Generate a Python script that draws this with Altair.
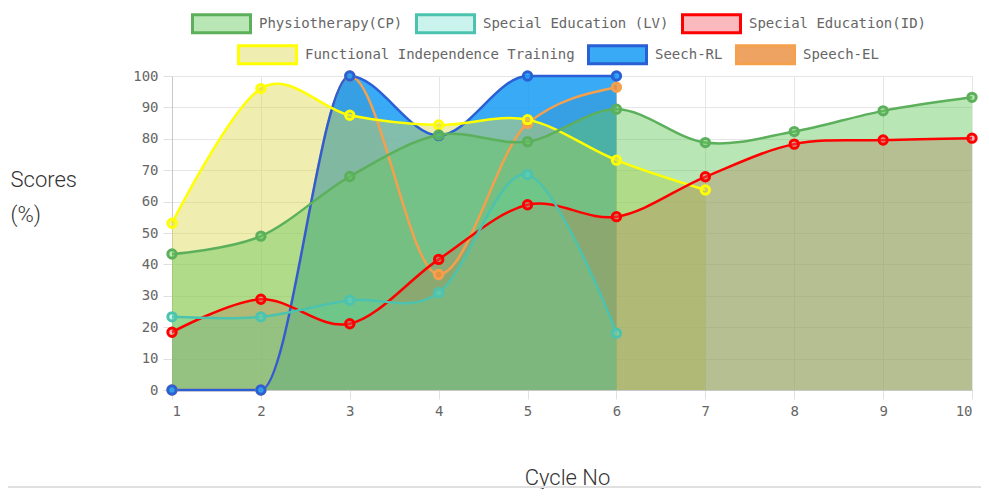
import altair as alt
import pandas as pd

# ---------------- data ----------------
cycles = [1, 2, 3, 4, 5, 6, 7, 8, 9, 10]
physio = [43.3, 49.0, 68.0, 81.2, 79.1, 89.4, 78.8, 82.3, 88.9, 93.2]
lv = [23.3, 23.3, 28.6, 31.0, 68.6, 18.1]
sid = [18.4, 28.9, 21.1, 41.6, 59.0, 55.2, 67.9, 78.3, 79.6, 80.2]
fit = [53.1, 96.0, 87.5, 84.4, 86.1, 73.2, 63.7]
rl = [0, 0, 100, 81.0, 100, 100]
el = [0, 0, 100, 36.8, 84.9, 96.4]

names = ["Physiotherapy(CP)", "Special Education (LV)", "Special Education(ID)",
         "Functional Independence Training", "Seech-RL", "Speech-EL"]
values = [physio, lv, sid, fit, rl, el]
fills = ["rgba(100,200,90,0.45)", "rgba(100,220,200,0.35)", "rgba(240,80,90,0.4)",
         "rgba(220,215,80,0.45)", "rgba(30,158,245,0.88)", "rgba(235,140,60,0.8)"]
strokes = ["#5cb05c", "#4cc3ae", "#ff0000", "#ffff00", "#2a5fd6", "#f4a04c"]
interps = ["cardinal", "cardinal", "cardinal", "cardinal", "monotone", "monotone"]

y_ticks = [0, 10, 20, 30, 40, 50, 60, 70, 80, 90, 100]

W, H = 800, 314


def frame(i):
    v = values[i]
    return pd.DataFrame({"cycle": cycles[:len(v)], "score": v, "series": names[i]})


MONO = "DejaVu Sans Mono"

x_enc = alt.X("cycle:Q", scale=alt.Scale(domain=[1, 10], nice=False, zero=False),
              axis=alt.Axis(values=cycles, format="d", labelFont=MONO, labelFontSize=14,
                            labelColor="#666", tickColor="#e0e0e0", tickSize=9,
                            gridColor="#e6e6e6", domainColor="#c8c8c8", labelPadding=5,
                            title="Cycle No", titleFont="Roboto", titleFontSize=22,
                            titleFontWeight=300, titleColor="#333", titleX=395, titleY=94,
                            titleAlign="center", titleBaseline="alphabetic"))
y_enc = alt.Y("score:Q", scale=alt.Scale(domain=[0, 100], nice=False),
              axis=alt.Axis(values=y_ticks, labelFont=MONO, labelFontSize=14,
                            labelColor="#666", tickColor="#e0e0e0", tickSize=9,
                            gridColor="#e6e6e6", domainColor="#c8c8c8", labelPadding=5,
                            title=["Scores", "(%)"], titleFont="Roboto", titleFontSize=22,
                            titleFontWeight=300, titleColor="#333", titleAngle=0,
                            titleX=-162, titleY=110, titleAlign="left",
                            titleBaseline="alphabetic", titleLineHeight=35))

draw_order = [5, 4, 3, 2, 1, 0]  # bottom to top (Chart.js draws datasets in reverse)

layers = []
for i in draw_order:
    layers.append(alt.Chart(frame(i)).mark_area(interpolate=interps[i], color=fills[i])
                  .encode(x=x_enc, y=y_enc))

SYM = "M-1,-0.31H1V0.31H-1Z"


def legend(x, y):
    return alt.Legend(orient="none", legendX=x, legendY=y, direction="horizontal",
                      title=None, symbolType=SYM, symbolSize=3364, symbolStrokeWidth=3,
                      symbolOpacity=1, labelFont=MONO, labelFontSize=14, labelColor="#666",
                      labelOffset=7, columnPadding=7, padding=0, labelLimit=600)


def points(group, lx, ly):
    df = pd.concat([frame(i) for i in group], ignore_index=True)
    dom = [names[i] for i in sorted(group)]
    return alt.Chart(df).mark_point(filled=True, size=70, strokeWidth=3, opacity=1).encode(
        x=x_enc, y=y_enc,
        fill=alt.Fill("series:N", sort=None,
                      scale=alt.Scale(domain=dom, range=[fills[names.index(n)] for n in dom]),
                      legend=legend(lx, ly)),
        stroke=alt.Stroke("series:N", sort=None,
                          scale=alt.Scale(domain=dom, range=[strokes[names.index(n)] for n in dom]),
                          legend=legend(lx, ly)),
    )


# group B (drawn first)
for i in [5, 4, 3]:
    layers.append(alt.Chart(frame(i)).mark_line(interpolate=interps[i], color=strokes[i],
                                                 strokeWidth=2.5).encode(x=x_enc, y=y_enc))
layers.append(points([5, 4, 3], 65, -52))
for i in [2, 1, 0]:
    layers.append(alt.Chart(frame(i)).mark_line(interpolate=interps[i], color=strokes[i],
                                                 strokeWidth=2.5).encode(x=x_enc, y=y_enc))
layers.append(points([2, 1, 0], 19, -83))

sep = alt.Chart(pd.DataFrame({"a": [0]})).mark_rule(color="#e0e0e0", strokeWidth=2).encode(
    x=alt.value(-164), x2=alt.value(W + 9), y=alt.value(411))
layers.append(sep)

chart = (alt.layer(*layers)
         .resolve_scale(fill="independent", stroke="independent")
         .properties(width=W, height=H,
                     autosize=alt.AutoSizeParams(type="none"),
                     padding={"left": 164, "top": 68, "right": 9, "bottom": 99})
         .configure_view(stroke=None))

chart.save("out.html", embed_options={"renderer": "svg", "actions": False})
